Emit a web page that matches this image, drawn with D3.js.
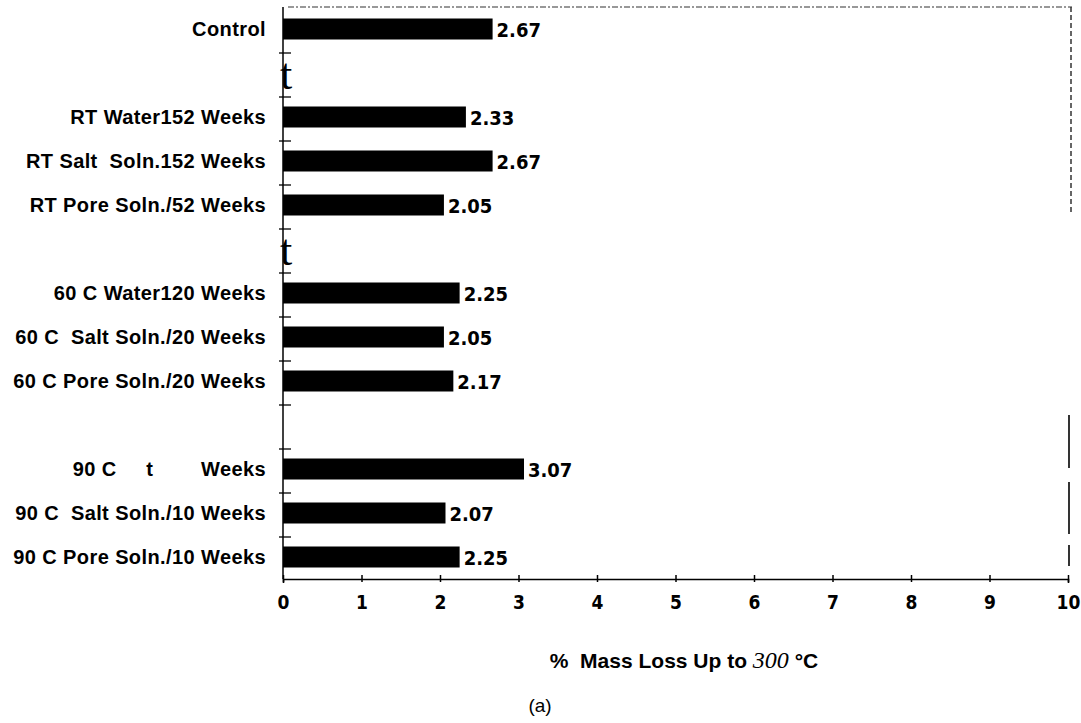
<!DOCTYPE html>
<html lang="en">
<head>
    <meta charset="UTF-8">
    <title>% Mass Loss Up to 300 °C</title>
    <script src="https://d3js.org/d3.v7.min.js"></script>
    <style>
        body { margin: 0; background: #fff; }
        .cat { font-family: "Liberation Sans", Arial, sans-serif; font-weight: bold; font-size: 20px; letter-spacing: 0.4px; white-space: pre; }
        .val { font-family: "DejaVu Sans Condensed", "Liberation Sans", sans-serif; font-weight: bold; font-size: 20px; }
        .tick text { font-family: "DejaVu Sans Condensed", "Liberation Sans", sans-serif; font-weight: bold; font-size: 19px; }
    </style>
</head>
<body>

<script>
    // rows from top to bottom; "" rows are the gaps between groups
    var categories = ["Control", "",
        "RT Water152 Weeks", "RT Salt  Soln.152 Weeks", "RT Pore Soln./52 Weeks", "",
        "60 C Water120 Weeks", "60 C  Salt Soln./20 Weeks", "60 C Pore Soln./20 Weeks", "",
        "90 C     t        Weeks", "90 C  Salt Soln./10 Weeks", "90 C Pore Soln./10 Weeks"];
    var values = [2.67, null, 2.33, 2.67, 2.05, null, 2.25, 2.05, 2.17, null, 3.07, 2.07, 2.25];
    var valueLabels = ["2.67", "", "2.33", "2.67", "2.05", "", "2.25", "2.05", "2.17", "", "3.07", "2.07", "2.25"];
    var xTicks = [0, 1, 2, 3, 4, 5, 6, 7, 8, 9, 10];
    var gapMarks = [1, 5];   // rows where the scan shows a stray "t" on the axis

    var width = 1081,
            height = 723;

    var svg = d3.select("body").append("svg")
            .attr("width", width)
            .attr("height", height);

    var x = d3.scaleLinear().domain([0, 10]).range([283, 1068]);
    var y = d3.scaleBand().domain(d3.range(categories.length)).range([7, 579]).paddingInner(0);
    var barH = 21;

    // frame (dashed, like the faded scan)
    svg.append("line")
            .attr("x1", 288).attr("x2", 1072).attr("y1", 7).attr("y2", 7)
            .attr("stroke", "#333").attr("stroke-width", 1.2).attr("stroke-dasharray", "6,2,2,2");
    svg.append("line")
            .attr("x1", 1071).attr("x2", 1071).attr("y1", 7).attr("y2", 215)
            .attr("stroke", "#333").attr("stroke-width", 1.5).attr("stroke-dasharray", "5,3");
    [[415, 468], [482, 534], [545, 566]].forEach(function (s) {
        svg.append("line")
                .attr("x1", 1069).attr("x2", 1069).attr("y1", s[0]).attr("y2", s[1])
                .attr("stroke", "#000").attr("stroke-width", 1.6);
    });

    // bars
    var idx = d3.range(categories.length).filter(function (i) { return values[i] !== null; });

    svg.selectAll("rect.bar")
            .data(idx)
            .enter()
            .append("rect")
            .attr("class", "bar")
            .attr("x", x(0))
            .attr("y", function (i) { return y(i) + y.bandwidth() / 2 - barH / 2; })
            .attr("width", function (i) { return x(values[i]) - x(0); })
            .attr("height", barH)
            .attr("fill", "#000");

    svg.selectAll("text.val")
            .data(idx)
            .enter()
            .append("text")
            .attr("class", "val")
            .attr("x", function (i) { return x(values[i]) + 4; })
            .attr("y", function (i) { return y(i) + y.bandwidth() / 2 + 8; })
            .text(function (i) { return valueLabels[i]; });

    // category labels
    svg.selectAll("text.cat")
            .data(d3.range(categories.length))
            .enter()
            .append("text")
            .attr("class", "cat")
            .attr("x", 266)
            .attr("y", function (i) { return y(i) + y.bandwidth() / 2 + 7; })
            .attr("text-anchor", "end")
            .text(function (i) { return categories[i]; });

    // y axis line and cross ticks at the band edges
    svg.append("line")
            .attr("x1", x(0)).attr("x2", x(0)).attr("y1", 7).attr("y2", 579)
            .attr("stroke", "#000").attr("stroke-width", 1.5);
    svg.selectAll("line.ytick")
            .data(d3.range(1, categories.length))
            .enter()
            .append("line")
            .attr("class", "ytick")
            .attr("x1", x(0) - 4).attr("x2", x(0) + 8)
            .attr("y1", function (i) { return y(i) + 2; })
            .attr("y2", function (i) { return y(i) + 2; })
            .attr("stroke", "#000").attr("stroke-width", 1.3);

    svg.selectAll("text.gap")
            .data(gapMarks)
            .enter()
            .append("text")
            .attr("class", "gap")
            .attr("x", x(0) - 3)
            .attr("y", function (i) { return y(i) + y.bandwidth() / 2 + 16; })
            .attr("fill", "#000")
            .style("font-family", "'Liberation Serif', 'Times New Roman', serif")
            .style("font-size", "44px")
            .text("t");

    // x axis
    var xAxis = svg.append("g")
            .attr("transform", "translate(0,579)")
            .call(d3.axisBottom(x).tickValues(xTicks).tickSize(4).tickFormat(d3.format("d")));
    xAxis.select(".domain").attr("stroke-width", 1.6);
    xAxis.selectAll(".tick line").attr("y1", -4).attr("y2", 3).attr("stroke-width", 1.5);
    xAxis.selectAll(".tick text").attr("y", 17).attr("fill", "#000");

    // axis title
    var title = svg.append("text")
            .attr("x", 684)
            .attr("y", 668)
            .attr("text-anchor", "middle")
            .style("font-family", "'Liberation Sans', Arial, sans-serif")
            .style("font-weight", "bold")
            .style("font-size", "21px")
            .style("white-space", "pre");
    title.append("tspan").text("%  Mass Loss Up to ");
    title.append("tspan")
            .style("font-family", "'Liberation Serif', 'Times New Roman', serif")
            .style("font-style", "italic")
            .style("font-weight", "normal")
            .style("font-size", "24px")
            .text("300");
    title.append("tspan").text(" °C");

    svg.append("text")
            .attr("x", 540)
            .attr("y", 712)
            .attr("text-anchor", "middle")
            .style("font-family", "'Liberation Sans', Arial, sans-serif")
            .style("font-size", "19px")
            .text("(a)");
</script>

</body>
</html>
